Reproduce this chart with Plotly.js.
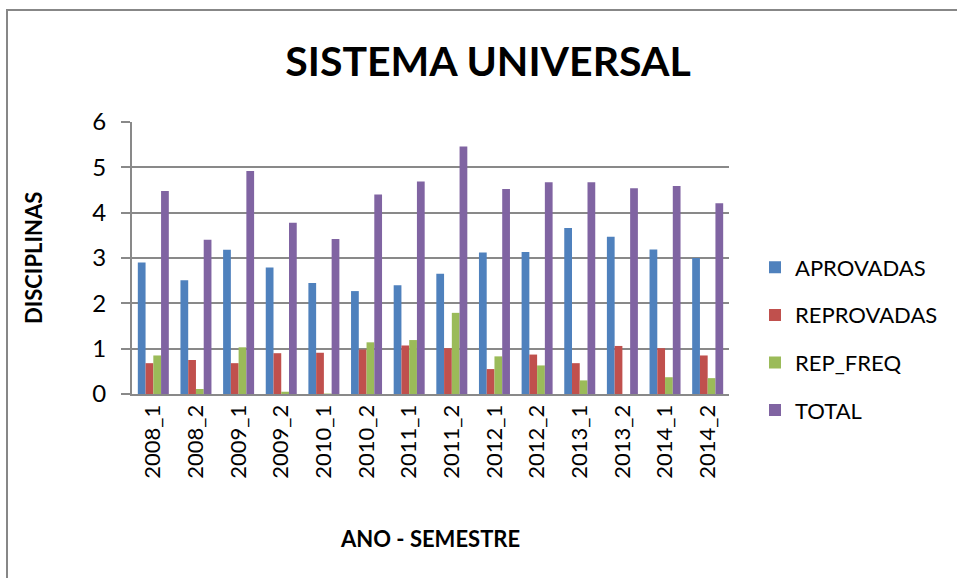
<!DOCTYPE html>
<html>
<head>
<meta charset="utf-8">
<script src="https://cdn.plot.ly/plotly-3.0.1.min.js"></script>
<style>
  html, body { margin: 0; padding: 0; background: #fff; overflow: hidden; }
  #chart { width: 957px; height: 578px; position: absolute; left: 0; top: 0; }
  #frame { position: absolute; left: 6px; top: 9px; width: 1000px; height: 1000px;
           border-left: 2px solid #878787; border-top: 2px solid #878787; pointer-events: none; }
</style>
</head>
<body>
<div id="chart"></div>
<div id="frame"></div>
<script>
const categories = ["2008_1","2008_2","2009_1","2009_2","2010_1","2010_2","2011_1","2011_2","2012_1","2012_2","2013_1","2013_2","2014_1","2014_2"];
const aprovadas  = [2.90, 2.51, 3.18, 2.79, 2.45, 2.27, 2.40, 2.65, 3.12, 3.13, 3.66, 3.47, 3.19, 3.00];
const reprovadas = [0.68, 0.75, 0.68, 0.90, 0.91, 0.98, 1.07, 1.01, 0.55, 0.87, 0.68, 1.06, 1.01, 0.85];
const repFreq    = [0.85, 0.11, 1.03, 0.05, 0.01, 1.14, 1.19, 1.79, 0.83, 0.63, 0.30, 0.00, 0.37, 0.35];
const total      = [4.48, 3.40, 4.92, 3.78, 3.42, 4.40, 4.69, 5.46, 4.52, 4.67, 4.67, 4.54, 4.59, 4.21];
const seriesNames = ["APROVADAS", "REPROVADAS", "REP_FREQ", "TOTAL"];
const yTicks = [0, 1, 2, 3, 4, 5, 6];

const colors = ["#4F81BD", "#C0504D", "#9BBB59", "#8064A2"];
const values = [aprovadas, reprovadas, repFreq, total];

const traces = values.map((v, i) => ({
  type: "bar",
  name: seriesNames[i],
  x: categories,
  y: v,
  legendgroup: "g" + i,
  marker: { color: colors[i] },
  hoverinfo: "x+y+name"
}));

const FONT = "Lato, 'Open Sans', sans-serif";
const gridCol = "#898989";

const layout = {
  width: 957,
  height: 578,
  paper_bgcolor: "#fff",
  plot_bgcolor: "#fff",
  margin: { l: 132, r: 228, t: 122, b: 184, pad: 0 },
  barmode: "group",
  bargap: 0.273,
  bargroupgap: 0,
  font: { family: FONT, color: "#000", size: 22 },
  title: {
    text: "<b>SISTEMA UNIVERSAL</b>",
    font: { family: FONT, size: 41, color: "#000" },
    x: 488 / 957, xanchor: "center",
    y: 1 - 62 / 578, yanchor: "middle",
    xref: "container", yref: "container"
  },
  xaxis: {
    type: "category",
    tickangle: -90,
    showline: true, linecolor: gridCol, linewidth: 2,
    ticks: "", showgrid: false,
    tickfont: { family: FONT, size: 22, color: "#000" },
    automargin: false
  },
  yaxis: {
    range: [0, 6],
    tickvals: yTicks,
    showline: true, linecolor: gridCol, linewidth: 2,
    ticks: "outside", ticklen: 9, tickwidth: 2, tickcolor: gridCol,
    showgrid: true, gridcolor: gridCol, gridwidth: 2,
    zeroline: false,
    tickfont: { family: FONT, size: 24, color: "#000" },
    ticklabelstandoff: 10,
    automargin: false
  },
  showlegend: true,
  legend: {
    xref: "container", yref: "container",
    x: 755 / 957, xanchor: "left",
    y: 1 - 339 / 578, yanchor: "middle",
    font: { family: FONT, size: 22, color: "#000" },
    tracegroupgap: 16,
    bgcolor: "rgba(0,0,0,0)"
  },
  annotations: [
    {
      text: "<b>DISCIPLINAS</b>",
      xref: "paper", yref: "paper",
      x: (33 - 132) / 597, y: (394 - 258) / 272,
      xanchor: "center", yanchor: "middle",
      textangle: -90, showarrow: false,
      font: { family: FONT, size: 22, color: "#000" }
    },
    {
      text: "<b>ANO - SEMESTRE</b>",
      xref: "paper", yref: "paper",
      x: (430 - 132) / 597, y: (394 - 538) / 272,
      xanchor: "center", yanchor: "middle",
      showarrow: false,
      font: { family: FONT, size: 22, color: "#000" }
    }
  ]
};

Plotly.newPlot("chart", traces, layout, { displayModeBar: false, staticPlot: true });
</script>
</body>
</html>
